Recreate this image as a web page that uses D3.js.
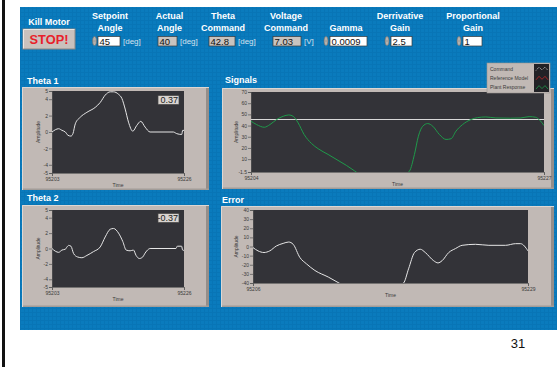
<!DOCTYPE html>
<html><head><meta charset="utf-8">
<script src="https://cdn.jsdelivr.net/npm/d3@7"></script>
<style>
html,body{margin:0;padding:0;background:#fff;}
svg{display:block;}
text{font-family:"Liberation Sans",Arial,sans-serif;}
</style></head>
<body>
<svg id="c" width="558" height="367"></svg>
<script>
// ---------------- DATA ----------------
const theta1Time  = [95203,95204.16,95204.74,95205.32,95205.78,95206.30,95206.65,95207.06,95207.92,95209.08,95210.53,95211.40,95212.27,95213.14,95213.72,95214.59,95215.17,95215.75,95216.33,95217.08,95217.77,95218.47,95219.22,95220.09,95224.15,95224.73,95225.60,95225.77,95226];
const theta1Value = [0,0.4,0.2,0,-0.4,-0.5,-0.2,1.0,1.8,2.4,3.0,3.6,4.5,4.9,4.9,4.6,4.1,2.8,1.2,0.1,0.8,1.3,0.6,0,0,-0.2,-0.3,0.2,0.2];

const theta2Time  = [95203,95203.58,95204.16,95204.74,95205.32,95205.61,95205.90,95206.30,95206.76,95207.46,95208.21,95209.08,95210.24,95211.40,95212.27,95213.14,95213.72,95214.59,95215.34,95215.92,95216.61,95217.19,95217.65,95218.23,95218.81,95219.22,95219.80,95220.09,95224.60,95224.83,95225.58,95225.76,95226];
const theta2Value = [0,-0.35,-0.5,-0.2,-0.1,0.2,0.4,0.3,-0.65,-1.1,-1.2,-0.9,-0.4,0.2,1.5,2.5,2.6,2.0,0.9,-0.2,-0.3,-0.2,-0.9,-1.3,-1.1,-0.6,-0.1,0,0,0.3,0.3,-0.2,-0.25];

const signalTime     = [95204,95204.44,95205.04,95205.49,95206.01,95206.53,95206.97,95207.31,95207.70,95208.17,95208.75,95209.27,95210.05,95210.83,95211.49,95212.14,95214.30,95216.44,95216.83,95217.14,95217.48,95217.87,95218.27,95218.79,95219.31,95219.70,95220.09,95220.61,95221.27,95221.79,95222.44,95223.22,95224.39,95225.18,95225.83,95226.35,95226.61,95227];
const plantResponse  = [43.9,40.9,38.5,40.9,45.4,48.3,49.5,48.3,42.4,32,24,19.3,14.2,8.9,4.4,-0.6,-15,-0.6,14.2,30.5,39.4,41.8,39.4,32,27.6,28.2,35,40.9,45.4,47.1,47.7,46.8,46.6,46.8,48,47.4,45.4,40];
const commandTime    = [95204,95227];
const commandValue   = [45,45];
const referenceValue = [45,45];

const errorTime  = [95206,95206.42,95206.92,95207.40,95207.96,95208.52,95208.99,95209.36,95209.92,95210.48,95211.18,95212.30,95213.19,95215.37,95218.59,95219.01,95219.51,95219.99,95220.41,95221.11,95221.47,95221.81,95222.37,95222.93,95223.49,95224.61,95225.73,95227.12,95227.96,95228.38,95229];
const errorValue = [-1.2,-4.8,-6.6,-4.8,0.6,3.4,4.9,2.4,-12,-19.1,-26.3,-33.5,-40,-55,-40,-24.5,-6.6,-3,-6.6,-15.6,-18,-15.6,-6.6,-2.3,1.3,2.4,1.3,1.3,3.1,3.1,-4.8];

const thetaTicks  = [-5,-4,-2,0,2,4,5];
const signalTicks = [-1.5,10,20,30,40,50,60,70];
const errorTicks  = [-40,-30,-20,-10,0,10,20,30,40];
const theta1Range = [95203,95226];
const theta2Range = [95203,95226];
const signalRange = [95204,95227];
const errorRange  = [95206,95229];

const legendNames = ["Command","Reference Model","Plant Response"];

// ---------------- DRAW ----------------
const svg = d3.select("#c");
const defs = svg.append("defs");
const pat = defs.append("pattern").attr("id","grid").attr("width",4).attr("height",4).attr("patternUnits","userSpaceOnUse");
pat.append("rect").attr("width",4).attr("height",4).attr("fill","#0a7bbd");
pat.append("path").attr("d","M0,0.5H4M0.5,0V4").attr("stroke","#0670b0").attr("stroke-width",1).attr("opacity",0.5);

svg.append("rect").attr("x",0).attr("y",0).attr("width",558).attr("height",367).attr("fill","#fff");
svg.append("rect").attr("x",2).attr("y",0).attr("width",3).attr("height",367).attr("fill","#111");
svg.append("rect").attr("x",20).attr("y",7).attr("width",537).attr("height",323).attr("fill","url(#grid)");

// ---- controls ----
function label(lines, cx, y0){
  lines.forEach((t,i)=>svg.append("text").attr("x",cx).attr("y",y0+i*12).attr("text-anchor","middle")
    .attr("font-size",9).attr("font-weight","bold").attr("fill","#fff").text(t));
}
label(["Kill Motor"],49,25);
label(["Setpoint","Angle"],110,19);
label(["Actual","Angle"],169.5,19);
label(["Theta","Command"],223,19);
label(["Voltage","Command"],286,19);
label(["Gamma"],346,31);
label(["Derrivative","Gain"],400,19);
label(["Proportional","Gain"],473,19);

// stop button
svg.append("rect").attr("x",23).attr("y",29).attr("width",52).attr("height",20).attr("fill","#c9c1bd").attr("stroke","#8d8783").attr("stroke-width",1);
svg.append("path").attr("d","M23.5,48.5V29.5H74.5").attr("fill","none").attr("stroke","#ece6e2");
svg.append("text").attr("x",49).attr("y",44).attr("text-anchor","middle").attr("font-size",12.8).attr("font-weight","bold").attr("fill","#e8202a").text("STOP!");

function knob(cx){
  svg.append("ellipse").attr("cx",cx).attr("cy",41).attr("rx",2).attr("ry",4.5).attr("fill","#b5b2ae").attr("stroke","#6f6c69").attr("stroke-width",0.6);
  svg.append("line").attr("x1",cx-1.5).attr("x2",cx+1.5).attr("y1",41).attr("y2",41).attr("stroke","#8a8784").attr("stroke-width",0.6);
}
function box(x,w,txt,ctrl,unit){
  svg.append("rect").attr("x",x).attr("y",36.5).attr("width",w).attr("height",9.5).attr("fill",ctrl?"#ffffff":"#c8c3bf").attr("stroke","#3a3a3a").attr("stroke-width",0.7);
  svg.append("text").attr("x",x+1.5).attr("y",44.8).attr("font-size",9.5).attr("fill","#111").text(txt);
  if(unit) svg.append("text").attr("x",x+w+3).attr("y",44).attr("font-size",8).attr("fill","#d6e2ee").text(unit);
}
knob(94.5); box(98,22,"45",true,"[deg]");
box(158,19,"40",false,"[deg]");
box(209,26,"42.8",false,"[deg]");
box(273,28,"7.03",false,"[V]");
knob(326); box(330,37,"0.0009",true);
knob(387); box(391,21,"2.5",true);
knob(459); box(463,19,"1",true);

// ---- titles ----
function title(t,x,y){ svg.append("text").attr("x",x).attr("y",y).attr("font-size",9).attr("font-weight","bold").attr("fill","#fff").text(t); }
title("Theta 1",27,84); title("Signals",225,83); title("Theta 2",27,201); title("Error",222,203);

// ---- graphs ----
let clipId=0;
function graph(cfg){
  const f=cfg.frame, p=cfg.plot;
  const g=svg.append("g");
  g.append("rect").attr("x",f[0]).attr("y",f[1]).attr("width",f[2]-f[0]).attr("height",f[3]-f[1]).attr("fill","#c1b9b5");
  g.append("path").attr("d",`M${f[0]+0.5},${f[3]}V${f[1]+0.5}H${f[2]}`).attr("fill","none").attr("stroke","#ddd7d3");
  g.append("rect").attr("x",f[2]-3).attr("y",f[1]+1).attr("width",3).attr("height",f[3]-f[1]-1).attr("fill","#948e8a");
  g.append("rect").attr("x",f[0]+1).attr("y",f[3]-1.5).attr("width",f[2]-f[0]-1).attr("height",1.5).attr("fill","#a29c98");
  g.append("rect").attr("x",p[0]).attr("y",p[1]).attr("width",p[2]-p[0]).attr("height",p[3]-p[1]).attr("fill","#333338");
  const x=d3.scaleLinear().domain(cfg.xDomain).range([p[0],p[2]]);
  const y=d3.scaleLinear().domain(cfg.yDomain).range([p[3],p[1]]);
  const ya=g.append("g").attr("transform",`translate(${p[0]},0)`).call(d3.axisLeft(y).tickValues(cfg.yTicks).tickSize(3).tickPadding(1).tickFormat(d=>String(d)));
  const xa=g.append("g").attr("transform",`translate(0,${p[3]})`).call(d3.axisBottom(x).tickValues(cfg.xDomain).tickSize(3).tickPadding(1).tickFormat(d3.format("d")));
  [ya,xa].forEach(a=>{a.selectAll("text").attr("font-size",5).attr("fill","#3a3a3a");a.selectAll("line,path").attr("stroke","#555").attr("stroke-width",0.7);});
  g.append("text").attr("transform",`translate(${p[0]+cfg.ampDx},${(p[1]+p[3])/2}) rotate(-90)`).attr("text-anchor","middle").attr("font-size",5).attr("fill","#3a3a3a").text("Amplitude");
  g.append("text").attr("x",(p[0]+p[2])/2).attr("y",p[3]+14).attr("text-anchor","middle").attr("font-size",5).attr("fill","#3a3a3a").text("Time");
  const id="clip"+(clipId++);
  defs.append("clipPath").attr("id",id).append("rect").attr("x",p[0]).attr("y",p[1]).attr("width",p[2]-p[0]).attr("height",p[3]-p[1]);
  const lg=g.append("g").attr("clip-path",`url(#${id})`);
  cfg.series.forEach(s=>{
    const line=d3.line().x((d,i)=>x(s.t[i])).y(d=>y(d)).curve(s.curve||d3.curveMonotoneX);
    lg.append("path").attr("d",line(s.v)).attr("fill","none").attr("stroke",s.color).attr("stroke-width",s.w||1)
      .attr("shape-rendering",s.crisp?"crispEdges":null);
  });
  if(cfg.valueBox){
    const b=cfg.valueBox;
    g.append("rect").attr("x",b.x).attr("y",b.y).attr("width",21).attr("height",9).attr("fill","#d9d4d0").attr("stroke","#444").attr("stroke-width",0.7);
    g.append("text").attr("x",b.x+20).attr("y",b.y+7.8).attr("text-anchor","end").attr("font-size",9).attr("fill","#222").text(b.text);
  }
  return {x,y};
}

graph({frame:[22,87,209,190],plot:[52,91,184,173],xDomain:theta1Range,yDomain:[-5,5],yTicks:thetaTicks,ampDx:-12,
  series:[{t:theta1Time,v:theta1Value,color:"#e6e6e6"}],valueBox:{x:158,y:95.5,text:"0.37"}});
graph({frame:[22,205,209,307],plot:[52,210,184,287],xDomain:theta2Range,yDomain:[-5,5],yTicks:thetaTicks,ampDx:-12,
  series:[{t:theta2Time,v:theta2Value,color:"#e6e6e6"}],valueBox:{x:158,y:213.5,text:"-0.37"}});
graph({frame:[222,88,554,189],plot:[251,92,544,172],xDomain:signalRange,yDomain:[-1.5,70],yTicks:signalTicks,ampDx:-13,
  series:[{t:commandTime,v:referenceValue,color:"#c02828",curve:d3.curveLinear,crisp:true},
          {t:commandTime,v:commandValue,color:"#d8d8d8",curve:d3.curveLinear,crisp:true},
          {t:signalTime,v:plantResponse,color:"#1f9a4a"}]});
graph({frame:[221,206,554,307],plot:[253,210,528,283],xDomain:errorRange,yDomain:[-40,40],yTicks:errorTicks,ampDx:-15,
  series:[{t:errorTime,v:errorValue,color:"#e6e6e6"}]});

// ---- legend ----
const lgd=svg.append("g");
lgd.append("rect").attr("x",487).attr("y",63).attr("width",63).attr("height",30).attr("fill","#c1b9b5").attr("stroke","#9a9490").attr("stroke-width",0.6);
lgd.append("rect").attr("x",534).attr("y",64).attr("width",15).attr("height",28).attr("fill","#222226");
const legColors=["#e0e0e0","#c02828","#1f9a4a"];
legendNames.forEach((n,i)=>{
  const cy=68.5+i*9.3;
  lgd.append("text").attr("x",490).attr("y",cy+2).attr("font-size",5).attr("fill","#3a3a3a").text(n);
  lgd.append("path").attr("d",`M536,${cy+2}L539,${cy-1.5}L542,${cy+1.5}L545,${cy-1.5}L548,${cy+2}`).attr("fill","none")
    .attr("stroke",legColors[i]).attr("stroke-width",0.8).attr("stroke-dasharray",i===0?"1,1":null);
});

// page number
svg.append("text").attr("x",518).attr("y",348).attr("text-anchor","middle").attr("font-family","'Liberation Serif','Times New Roman',serif").attr("font-size",13).attr("fill","#111").text("31");
</script>
</body></html>
